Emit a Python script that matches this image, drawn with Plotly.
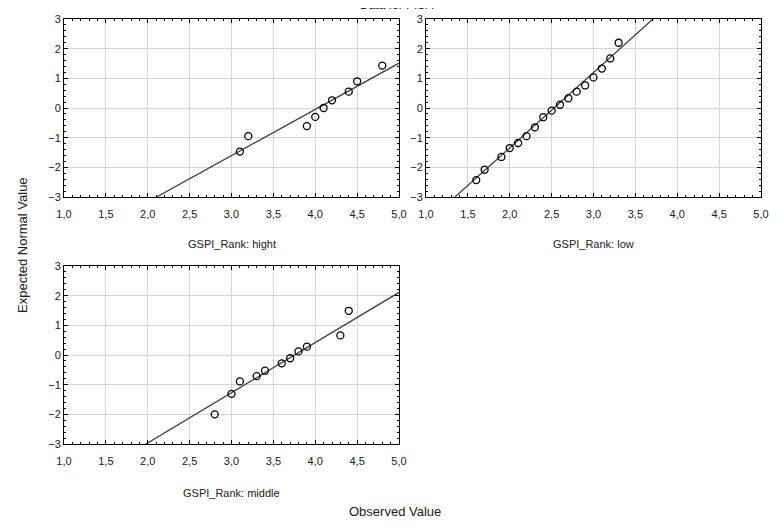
import plotly.graph_objects as go

# ---- data ----
panel_names = ["GSPI_Rank: hight", "GSPI_Rank: low", "GSPI_Rank: middle"]

hight_obs = [3.1, 3.2, 3.9, 4.0, 4.1, 4.2, 4.4, 4.5, 4.8]
hight_exp = [-1.47, -0.95, -0.61, -0.30, 0.00, 0.26, 0.55, 0.90, 1.43]

low_obs = [1.6, 1.7, 1.9, 2.0, 2.1, 2.2, 2.3, 2.4, 2.5, 2.6, 2.7, 2.8, 2.9, 3.0, 3.1, 3.2, 3.3]
low_exp = [-2.43, -2.08, -1.65, -1.35, -1.18, -0.95, -0.65, -0.31, -0.09, 0.11, 0.33, 0.55,
           0.76, 1.03, 1.33, 1.67, 2.20]

middle_obs = [2.8, 3.0, 3.1, 3.3, 3.4, 3.6, 3.7, 3.8, 3.9, 4.3, 4.4]
middle_exp = [-2.00, -1.31, -0.89, -0.71, -0.53, -0.28, -0.11, 0.12, 0.28, 0.66, 1.49]

# fitted reference lines: expected = slope * (observed - center)
fit_slope = [1.559, 2.537, 1.692]
fit_center = [4.03, 2.528, 3.753]

x_tick_vals = [1.0, 1.5, 2.0, 2.5, 3.0, 3.5, 4.0, 4.5, 5.0]
y_tick_vals = [-3, -2, -1, 0, 1, 2, 3]

series = [(hight_obs, hight_exp), (low_obs, low_exp), (middle_obs, middle_exp)]

# ---- layout geometry (page pixels; the page body adds an 8px offset) ----
W, H = 778, 530
OFF = 8
def fx(px):
    return (px - OFF) / W
def fy(py):
    return 1 - (py - OFF) / H
def px_x(a, b):
    return [fx(a), fx(b)]
def px_y(top, bottom):
    return [fy(bottom), fy(top)]

domains = [
    (px_x(64, 399), px_y(19, 197)),
    (px_x(426, 761), px_y(19, 197)),
    (px_x(64, 399), px_y(266, 444)),
]

FONT = "Liberation Sans Narrow, Arial Narrow, Liberation Sans, Arial, sans-serif"
FONT2 = "Liberation Sans, Arial, sans-serif"

fig = go.Figure()
layout = dict(
    width=W, height=H,
    margin=dict(l=0, r=0, t=0, b=0, autoexpand=False),
    paper_bgcolor="white", plot_bgcolor="white",
    showlegend=False,
    separators=", ",
    font=dict(family=FONT, size=11, color="#202020"),
)

annotations = []
for i, ((xs, ys), (xd, yd)) in enumerate(zip(series, domains)):
    xa = "x" if i == 0 else f"x{i+1}"
    ya = "y" if i == 0 else f"y{i+1}"
    lx = [1.0, 5.0]
    ly = [fit_slope[i] * (v - fit_center[i]) for v in lx]
    fig.add_trace(go.Scatter(x=lx, y=ly, mode="lines", xaxis=xa, yaxis=ya,
                             line=dict(color="#404040", width=1.3), hoverinfo="skip"))
    fig.add_trace(go.Scatter(x=xs, y=ys, mode="markers", xaxis=xa, yaxis=ya,
                             marker=dict(symbol="circle-open", size=7, color="black",
                                         line=dict(width=1.3, color="black"))))
    xkey = "xaxis" if i == 0 else f"xaxis{i+1}"
    ykey = "yaxis" if i == 0 else f"yaxis{i+1}"
    layout[xkey] = dict(
        domain=xd, anchor=ya, range=[1.0, 5.0],
        tickvals=x_tick_vals, tickformat=".1f",
        ticks="inside", ticklen=4, tickcolor="black", tickwidth=1,
        showline=True, linecolor="black", linewidth=1, mirror="allticks",
        showgrid=True, gridcolor="#d4d4d4", gridwidth=1, zeroline=False,
        minor=dict(dtick=0.1, ticks="inside", ticklen=2, tickcolor="black", showgrid=False),
        tickfont=dict(family=FONT, size=11, color="#202020"),
        ticklabelstandoff=7,
        automargin=False,
        fixedrange=True,
    )
    layout[ykey] = dict(
        domain=yd, anchor=xa, range=[-3, 3],
        tickvals=y_tick_vals,
        ticks="inside", ticklen=4, tickcolor="black", tickwidth=1,
        showline=True, linecolor="black", linewidth=1, mirror="allticks",
        showgrid=True, gridcolor="#d4d4d4", gridwidth=1, zeroline=False,
        minor=dict(dtick=0.2, ticks="inside", ticklen=2, tickcolor="black", showgrid=False),
        tickfont=dict(family=FONT2, size=11, color="#202020"),
        automargin=False,
        fixedrange=True,
    )
    # panel label
    label_y = [244, 244, 493][i]
    annotations.append(dict(
        text=panel_names[i], xref="paper", yref="paper",
        x=(xd[0] + xd[1]) / 2, y=fy(label_y), showarrow=False,
        xanchor="center", yanchor="middle",
        font=dict(family=FONT, size=11, color="#202020"),
    ))

annotations.append(dict(
    text="Observed Value", xref="paper", yref="paper",
    x=fx(395), y=fy(511), showarrow=False, xanchor="center", yanchor="middle",
    font=dict(family=FONT, size=13, color="#202020"),
))
annotations.append(dict(
    text="Expected Normal Value", xref="paper", yref="paper",
    x=fx(22), y=fy(245), showarrow=False, xanchor="center", yanchor="middle",
    textangle=-90, font=dict(family=FONT2, size=13, color="#202020"),
))
annotations.append(dict(
    text="Data for PISA", xref="paper", yref="paper",
    x=fx(396), y=1 + 3 / H, showarrow=False, xanchor="center", yanchor="middle",
    font=dict(family=FONT2, size=12, color="#202020"),
))
layout["annotations"] = annotations

fig.update_layout(**layout)
fig.write_html("out.html")
